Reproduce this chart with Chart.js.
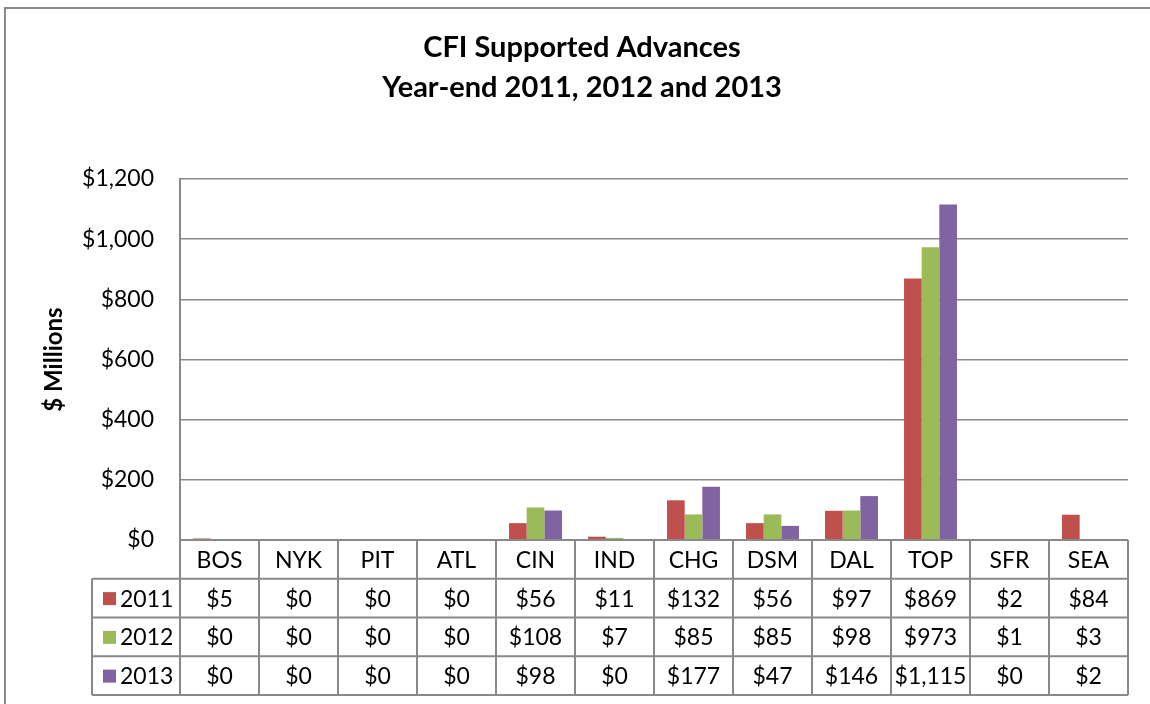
<!DOCTYPE html>
<html>
<head>
<meta charset="utf-8">
<script src="https://cdn.jsdelivr.net/npm/chart.js@4/dist/chart.umd.min.js"></script>
<style>
  body { margin: 0; background: #fff; }
  #wrap { width: 1150px; height: 704px; position: relative; }
</style>
</head>
<body>
<div id="wrap"><canvas id="myChart"></canvas></div>
<script>
const cats = ['BOS','NYK','PIT','ATL','CIN','IND','CHG','DSM','DAL','TOP','SFR','SEA'];
const years = ['2011','2012','2013'];
const v2011 = [5,0,0,0,56,11,132,56,97,869,2,84];
const v2012 = [0,0,0,0,108,7,85,85,98,973,1,3];
const v2013 = [0,0,0,0,98,0,177,47,146,1115,0,2];
const colors = ['#C0504D','#9BBB59','#8064A2'];
const yTicks = [0,200,400,600,800,1000,1200];

const FONT = 'Lato';
const GRAY = '#898989';

function money(v){
    return '$' + v.toLocaleString('en-US');
}

// outer frame of the chart box
const framePlugin = {
  id: 'frame',
  beforeDraw(chart){
    const ctx = chart.ctx;
    ctx.save();
    ctx.strokeStyle = GRAY;
    ctx.lineWidth = 2;
    ctx.strokeRect(5, 8, 1300, 900);
    ctx.restore();
  }
};

// data table under the plot
const tablePlugin = {
  id: 'dataTable',
  afterDraw(chart){
    const ctx = chart.ctx;
    const x = chart.scales.x;
    const area = chart.chartArea;
    const colW = (area.right - area.left) / cats.length;
    const rowH = 38.75;
    const top = area.bottom;
    const legLeft = 92;
    const rows = [v2011, v2012, v2013];
    ctx.save();
    ctx.strokeStyle = GRAY;
    ctx.lineWidth = 2;
    ctx.beginPath();
    ctx.moveTo(area.left, top); ctx.lineTo(area.right, top);
    for (let r = 1; r <= 4; r++) {
      ctx.moveTo(legLeft, top + r*rowH); ctx.lineTo(area.right, top + r*rowH);
    }
    for (let i = 0; i <= cats.length; i++) {
      const px = area.left + i*colW;
      ctx.moveTo(px, top); ctx.lineTo(px, top + 4*rowH);
    }
    ctx.moveTo(legLeft, top + rowH); ctx.lineTo(legLeft, top + 4*rowH);
    ctx.stroke();

    ctx.fillStyle = '#000';
    ctx.font = '23px ' + FONT;
    ctx.textAlign = 'center';
    ctx.textBaseline = 'middle';
    cats.forEach((c, i) => {
      ctx.fillText(c, x.getPixelForValue(i), top + rowH/2 + 1);
    });
    rows.forEach((vals, r) => {
      const cy = top + (r + 1.5)*rowH + 1;
      ctx.fillStyle = colors[r];
      ctx.fillRect(103, cy - 7, 13, 13);
      ctx.fillStyle = '#000';
      ctx.textAlign = 'left';
      ctx.fillText(years[r], 120, cy);
      ctx.textAlign = 'center';
      vals.forEach((v, i) => {
        ctx.fillText(money(v), x.getPixelForValue(i), cy);
      });
    });
    ctx.restore();
  }
};

function makeChart(){
  const ctx = document.getElementById('myChart');
  new Chart(ctx, {
    type: 'bar',
    data: {
      labels: cats,
      datasets: [
        { label: years[0], data: v2011, backgroundColor: colors[0] },
        { label: years[1], data: v2012, backgroundColor: colors[1] },
        { label: years[2], data: v2013, backgroundColor: colors[2] }
      ]
    },
    options: {
      responsive: true,
      maintainAspectRatio: false,
      animation: false,
      layout: { padding: { left: 36, right: 22, top: 0, bottom: 164 } },
      datasets: { bar: { categoryPercentage: 0.67, barPercentage: 1.0 } },
      scales: {
        x: { display: false },
        y: {
          min: 0,
          max: 1200,
          afterBuildTicks: (scale) => { scale.ticks = yTicks.map(v => ({ value: v })); },
          afterFit: (scale) => { scale.width = 144; },
          border: { color: GRAY, width: 2 },
          grid: { color: GRAY, lineWidth: 1.5, drawTicks: false },
          ticks: {
            padding: 26,
            color: '#000',
            font: { family: FONT, size: 23 },
            callback: (v) => money(v)
          },
          title: {
            display: true,
            text: '$ Millions',
            color: '#000',
            font: { family: FONT, size: 24, weight: 'bold' },
            padding: { top: 4, bottom: 0 }
          }
        }
      },
      plugins: {
        legend: { display: false },
        tooltip: { enabled: false },
        title: {
          display: true,
          text: ['CFI Supported Advances', 'Year-end 2011, 2012 and 2013'],
          color: '#000',
          font: { family: FONT, size: 29, weight: 'bold', lineHeight: 1.38 },
          padding: { top: 28, bottom: 71 }
        }
      }
    },
    plugins: [framePlugin, tablePlugin]
  });
}

makeChart();
</script>
</body>
</html>
